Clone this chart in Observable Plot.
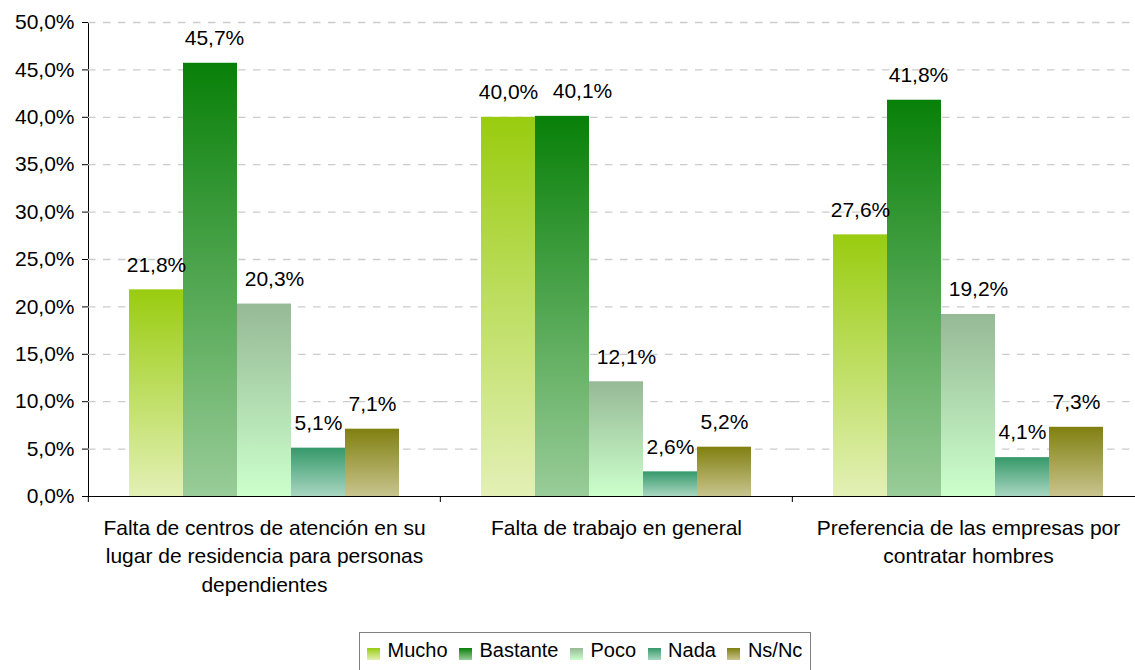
<!DOCTYPE html>
<html>
<head>
<meta charset="utf-8">
<script src="https://cdn.jsdelivr.net/npm/d3@7"></script>
<script src="https://cdn.jsdelivr.net/npm/@observablehq/plot@0.6"></script>
<style>
  html, body { margin: 0; padding: 0; background: #fff; overflow: hidden; }
  #wrap { position: relative; width: 1135px; height: 670px; font-family: "Liberation Sans", Arial, sans-serif; color: #000; }
  #wrap svg { display: block; }
  #legend { position: absolute; left: 359px; top: 632px; width: 452px; height: 46px; box-sizing: border-box;
            border: 1px solid #808080; padding-left: 7px; padding-top: 6px; display: flex; align-items: flex-start; }
  .item { display: flex; align-items: center; margin-right: 11.5px; }
  .sw { width: 13px; height: 12px; margin-right: 7.5px; position: relative; top: 3px; }
  .lab { font-size: 20px; line-height: 23px; white-space: nowrap; }
</style>
</head>
<body>
<div id="wrap"></div>
<script>
// ---- data ----
const categories = [
  "Falta de centros de atención en su lugar de residencia para personas dependientes",
  "Falta de trabajo en general",
  "Preferencia de las empresas por contratar hombres"
];
const categoryLabels = [
  "Falta de centros de atención en su\nlugar de residencia para personas\ndependientes",
  "Falta de trabajo en general",
  "Preferencia de las empresas por\ncontratar hombres"
];
const series = ["Mucho", "Bastante", "Poco", "Nada", "Ns/Nc"];
const mucho    = [21.8, 40.0, 27.6];
const bastante = [45.7, 40.1, 41.8];
const poco     = [20.3, 12.1, 19.2];
const nada     = [5.1, 2.6, 4.1];
const nsnc     = [7.1, 5.2, 7.3];
const yTicks = [0, 5, 10, 15, 20, 25, 30, 35, 40, 45, 50];

// ---- styles ----
const gradTop    = ["#99CC0F", "#088008", "#96B996", "#35996A", "#808010"];
const gradBottom = ["#E3F0B6", "#99CC99", "#CCFFCC", "#A9D6C1", "#C8C48E"];

const valuesBySeries = [mucho, bastante, poco, nada, nsnc];
const data = categories.flatMap((c, i) =>
  series.map((s, j) => ({category: c, serie: s, value: valuesBySeries[j][i]}))
);

const W = 1135, H = 625, ML = 87, MR = -9, MT = 22, MB = 129;
const FS = 21;
const fmtPct = d => d.toFixed(1).replace(".", ",") + "%";
const labelOf = new Map(categories.map((c, i) => [c, categoryLabels[i]]));
const facetHalf = (W - MR - ML) / categories.length / 2;
const textOpts = (extra) => ({fx: "category", x: "serie", y: "value", text: d => fmtPct(d.value),
  dy: -25, fontSize: FS, fill: "#000", ...extra});

const chart = Plot.plot({
  width: W, height: H,
  marginLeft: ML, marginRight: MR, marginTop: MT, marginBottom: MB,
  style: {fontFamily: "'Liberation Sans', Arial, sans-serif", fontSize: FS + "px", color: "#000", background: "transparent", overflow: "visible"},
  fx: {domain: categories, padding: 0, label: null},
  x: {domain: series, paddingInner: 0, paddingOuter: 0.75, axis: null},
  y: {domain: [0, 50], ticks: yTicks, tickSize: 6, tickPadding: 8, tickFormat: fmtPct, line: true, label: null},
  color: {domain: series, range: series.map((s, i) => `url(#grad${i})`)},
  marks: [
    Plot.gridY(yTicks.filter(d => d > 0), {stroke: "#cccccc", strokeOpacity: 1, strokeWidth: 1.3, strokeDasharray: "7.5,7.5"}),
    Plot.barY(data, {fx: "category", x: "serie", y: "value", fill: "serie"}),
    Plot.ruleY([0], {stroke: "#000", strokeWidth: 1}),
    Plot.text(data, textOpts({filter: d => d.serie !== "Poco" && d.serie !== "Bastante"})),
    Plot.text(data, textOpts({filter: d => d.serie === "Poco", dx: 10})),
    Plot.text(data, textOpts({filter: d => d.serie === "Bastante" && d.category !== categories[1], dx: 4})),
    Plot.text(data, textOpts({filter: d => d.serie === "Bastante" && d.category === categories[1], dx: 20})),
    Plot.axisFx({anchor: "bottom", tickSize: 0, tickPadding: 18, tickFormat: c => labelOf.get(c), lineHeight: 1.36, fontSize: FS, label: null}),
    Plot.axisFx({anchor: "bottom", tickSize: 6, tickFormat: () => "", dx: -facetHalf, label: null, stroke: "#000"})
  ]
});

// gradient definitions
const svg = d3.select(chart);
const defs = svg.insert("defs", ":first-child");
series.forEach((s, i) => {
  const g = defs.append("linearGradient").attr("id", `grad${i}`)
    .attr("x1", 0).attr("y1", 0).attr("x2", 0).attr("y2", 1);
  g.append("stop").attr("offset", 0).attr("stop-color", gradTop[i]);
  g.append("stop").attr("offset", 1).attr("stop-color", gradBottom[i]);
});

const wrap = document.getElementById("wrap");
wrap.appendChild(chart);

// legend
const legend = document.createElement("div");
legend.id = "legend";
series.forEach((s, i) => {
  const item = document.createElement("div");
  item.className = "item";
  const sw = document.createElement("div");
  sw.className = "sw";
  sw.style.background = `linear-gradient(to bottom, ${gradTop[i]}, ${gradBottom[i]})`;
  const lab = document.createElement("span");
  lab.className = "lab";
  lab.textContent = s;
  item.appendChild(sw);
  item.appendChild(lab);
  legend.appendChild(item);
});
wrap.appendChild(legend);
</script>
</body>
</html>
